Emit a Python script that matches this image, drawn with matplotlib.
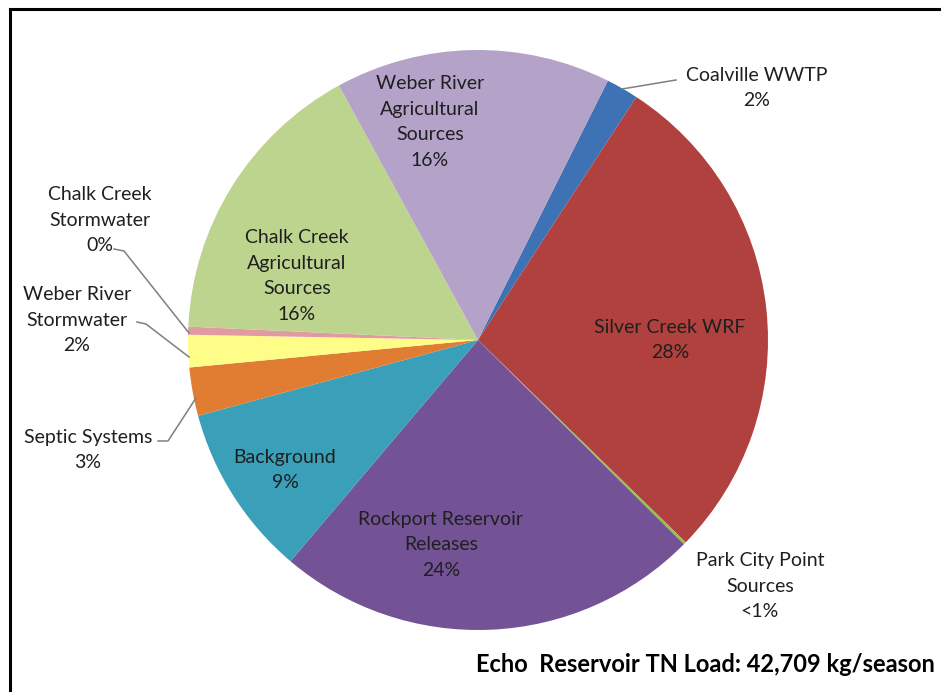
import matplotlib
matplotlib.use("Agg")
import matplotlib.pyplot as plt
from matplotlib.lines import Line2D

W, H = 941, 692

# slices, clockwise from the top-right
SOURCES = [
    "Coalville WWTP",
    "Silver Creek WRF",
    "Park City Point Sources",
    "Rockport Reservoir Releases",
    "Background",
    "Septic Systems",
    "Weber River Stormwater",
    "Chalk Creek Stormwater",
    "Chalk Creek Agricultural Sources",
    "Weber River Agricultural Sources",
]
SHARE = [1.8, 28.1, 0.15, 23.75, 9.6, 2.7, 1.8, 0.45, 16.3, 15.35]
PCT_TEXT = ["2%", "28%", "<1%", "24%", "9%", "3%", "2%", "0%", "16%", "16%"]
COLORS = [
    "#3d72b4", "#b0413e", "#9bbb59", "#735396", "#3a9fb8",
    "#e07d33", "#fdfd88", "#e09aa0", "#bdd48f", "#b4a2c8",
]
TOTAL_TEXT = "Echo  Reservoir TN Load: 42,709 kg/season"

# label layout (pixel coords: x, y of text centre, wrapped text)
LABEL_POS = {
    "Coalville WWTP": (757, 88, "Coalville WWTP"),
    "Silver Creek WRF": (670, 340, "Silver Creek WRF"),
    "Park City Point Sources": (760, 586, "Park City Point\nSources"),
    "Rockport Reservoir Releases": (441, 545, "Rockport Reservoir\nReleases"),
    "Background": (285, 470, "Background"),
    "Septic Systems": (88, 450, "Septic Systems"),
    "Weber River Stormwater": (77, 320, "Weber River\nStormwater"),
    "Chalk Creek Stormwater": (100, 220, "Chalk Creek\nStormwater"),
    "Chalk Creek Agricultural Sources": (297, 276, "Chalk Creek\nAgricultural\nSources"),
    "Weber River Agricultural Sources": (430, 122, "Weber River\nAgricultural\nSources"),
}

# leader lines in pixel coords
LEADERS = [
    [(622, 89), (676, 80)],
    [(114, 249), (124, 251), (189, 333)],
    [(137, 322), (146, 324), (189, 357)],
    [(158, 441), (168, 441), (196, 398)],
]

plt.rcParams["font.family"] = ["Lato", "DejaVu Sans"]

fig = plt.figure(figsize=(W / 100, H / 100), dpi=100)
ax = fig.add_axes([0, 0, 1, 1])

ax.pie(
    SHARE,
    colors=COLORS,
    startangle=63.4,
    counterclock=False,
    center=(478, H - 340),
    radius=290,
    wedgeprops=dict(linewidth=0),
    frame=True,
)
ax.set_xlim(0, W)
ax.set_ylim(0, H)
ax.set_aspect("equal")
ax.axis("off")

for name, pct in zip(SOURCES, PCT_TEXT):
    x, y, txt = LABEL_POS[name]
    ax.text(x, H - y, f"{txt}\n{pct}", ha="center", va="center",
            fontsize=14, color="#1f1f1f", linespacing=1.62)

for pts in LEADERS:
    xs = [p[0] for p in pts]
    ys = [H - p[1] for p in pts]
    ax.plot(xs, ys, color="#7f7f7f", lw=1.1)

ax.text(935, H - 665, TOTAL_TEXT, ha="right", va="center",
        fontsize=17, fontweight="bold", color="black")

# frame (left and top edges visible)
fig.add_artist(Line2D([10 / W, 10 / W], [0, 1 - 9 / H], color="black", lw=2.2,
                      transform=fig.transFigure))
fig.add_artist(Line2D([10 / W, 1], [1 - 9 / H, 1 - 9 / H], color="black", lw=2.2,
                      transform=fig.transFigure))

fig.savefig("out.png", dpi=100, facecolor="white")
